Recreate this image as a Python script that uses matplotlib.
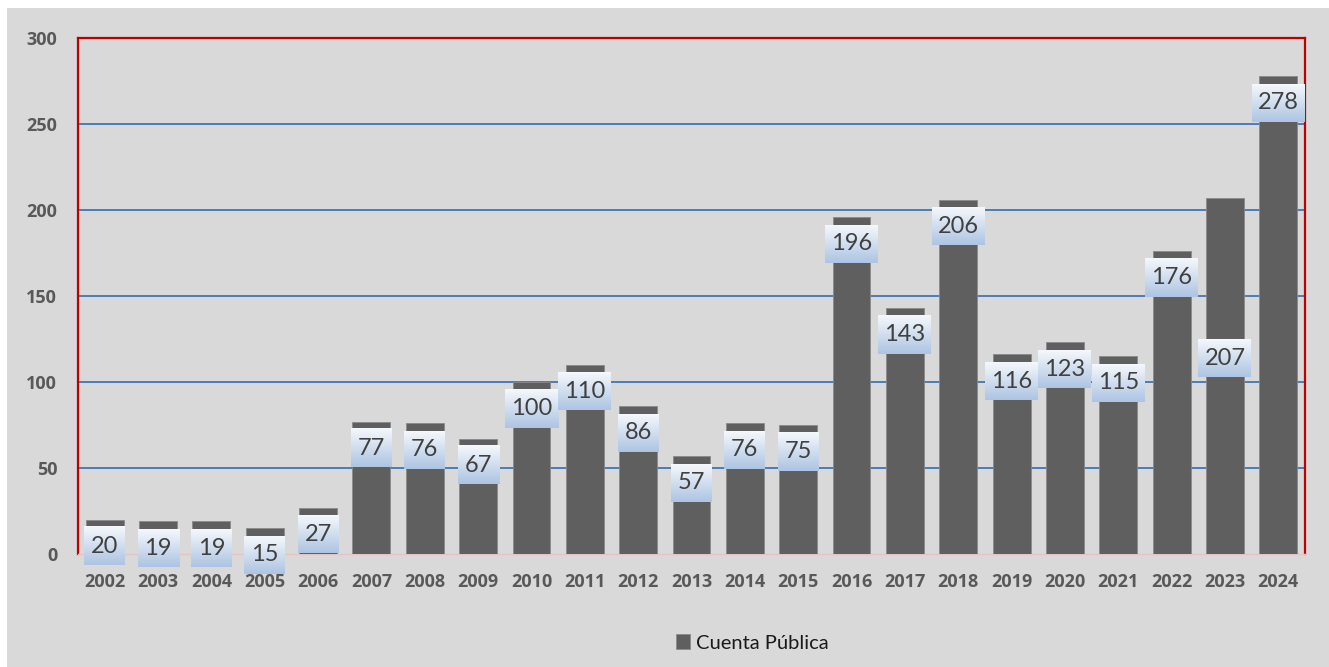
import numpy as np
import matplotlib
matplotlib.use("Agg")
import matplotlib.pyplot as plt
from matplotlib.patches import Rectangle
from matplotlib.colors import LinearSegmentedColormap

# Data
years = ["2002", "2003", "2004", "2005", "2006", "2007", "2008", "2009", "2010",
         "2011", "2012", "2013", "2014", "2015", "2016", "2017", "2018", "2019",
         "2020", "2021", "2022", "2023", "2024"]
values = [20, 19, 19, 15, 27, 77, 76, 67, 100, 110, 86, 57, 76, 75, 196, 143,
          206, 116, 123, 115, 176, 207, 278]
series_name = "Cuenta Pública"
y_ticks = [0, 50, 100, 150, 200, 250, 300]

BG = "#d9d9d9"
BAR = "#5f5f5f"
TICK_COLOR = "#595959"
TICK_FONT = ["Open Sans", "DejaVu Sans"]

plt.rcParams["font.family"] = ["Lato", "DejaVu Sans"]

W, H = 1329, 667
fig = plt.figure(figsize=(W / 100, H / 100), dpi=100, facecolor="white")
fig.patches.append(Rectangle((7 / W, 0), 1 - 7 / W, 1 - 8 / H,
                             transform=fig.transFigure, fc=BG, ec="none", zorder=-10))

ax = fig.add_axes([78 / W, 1 - 554 / H, (1305 - 78) / W, (554 - 38) / H])
ax.set_facecolor(BG)

x = np.arange(len(years))
bars = ax.bar(x, values, width=0.71, color=BAR, edgecolor="#8a8a8a", lw=0.6,
              zorder=3, label=series_name)

ax.set_xlim(-0.5, len(years) - 0.5)
ax.set_ylim(0, 300)
ax.set_yticks(y_ticks)
ax.set_yticklabels([str(t) for t in y_ticks], fontweight="bold", fontsize=13,
                   color=TICK_COLOR, family=TICK_FONT)
ax.set_xticks(x)
ax.set_xticklabels(years, fontweight="bold", fontsize=13, color=TICK_COLOR,
                   family=TICK_FONT)
ax.tick_params(axis="x", length=0, pad=14)
ax.tick_params(axis="y", length=0, pad=15)

for yv in y_ticks[1:-1]:
    ax.axhline(yv, color="#4a7ebb", lw=1.4, zorder=1)

for side in ["left", "top", "right"]:
    ax.spines[side].set_color("#c00000")
    ax.spines[side].set_linewidth(1.6)
ax.spines["bottom"].set_color("#e6c4c4")
ax.spines["bottom"].set_linewidth(1.0)

# pixel -> data conversion
ax_w_px = 1305 - 78
ax_h_px = 554 - 38
ux = len(years) / ax_w_px
uy = 300 / ax_h_px

grad = LinearSegmentedColormap.from_list("lbl", ["#f5f8fc", "#adc4e2"])
gimg = np.linspace(0, 1, 64).reshape(-1, 1)

for i, v in enumerate(values):
    n = len(str(v))
    bw = (41 if n < 3 else 53) * ux
    bh = 38 * uy
    if years[i] == "2023":
        top = v * 0.55 + bh / 2
    else:
        top = v - 7.7 * uy
    ax.imshow(gimg, cmap=grad, aspect="auto", origin="upper",
              extent=[i - bw / 2, i + bw / 2, top - bh, top],
              zorder=4, clip_on=False, interpolation="bilinear")
    ax.text(i, top - bh / 2, str(v), ha="center", va="center", fontsize=17,
            color="#404040", zorder=5, clip_on=False)

ax.set_xlim(-0.5, len(years) - 0.5)
ax.set_ylim(0, 300)

fig.legend(handles=[bars], labels=[series_name], loc="center",
           bbox_to_anchor=(752 / W, 1 - 643 / H), frameon=False, fontsize=14.5,
           handlelength=0.7, handleheight=0.7, handletextpad=0.3,
           labelcolor="#1a1a1a")

fig.savefig("out.png", dpi=100, facecolor="white")
